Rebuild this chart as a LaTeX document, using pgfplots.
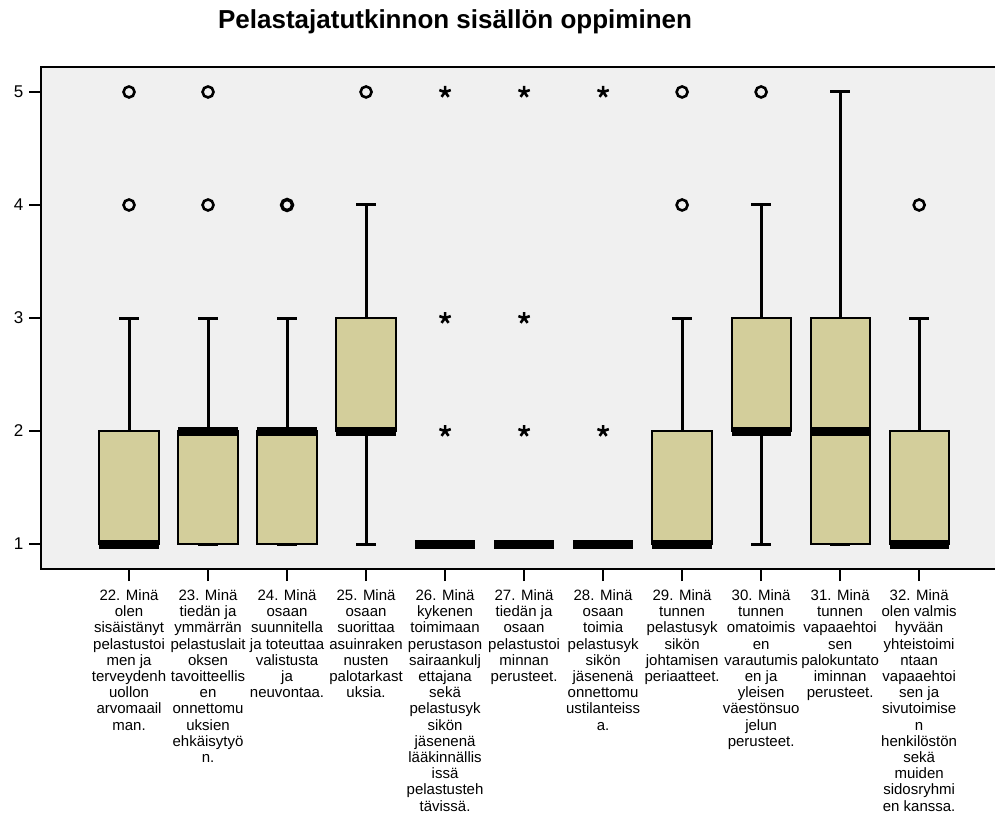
\documentclass[border=0pt]{standalone}
\usepackage{pgfplots}
\pgfplotsset{compat=1.18}
\usepgfplotslibrary{statistics}
\usepackage{fontspec}
\setmainfont{Liberation Sans}
\definecolor{bgc}{HTML}{F0F0F0}
\definecolor{boxc}{HTML}{D3CE9B}
\begin{document}
\begin{tikzpicture}
\begin{axis}[
  at={(0,0)}, anchor=south west,
  scale only axis, width=954pt, height=502pt,
  xmin=-0.114, xmax=11.96, ymin=0.779, ymax=5.221,
  axis background/.style={fill=bgc},
  axis line style={draw=none},
  ytick={1,2,3,4,5},
  xtick={1,...,11},
  tick align=outside,
  major tick length=12pt,
  every tick/.style={black, line width=2pt},
  xtick pos=bottom, ytick pos=left,
  /pgf/number format/assume math mode=true,
  yticklabel style={font=\fontsize{17}{20}\selectfont, inner sep=5.5pt},
  xticklabel style={font=\fontsize{15}{16.2}\selectfont, align=center, inner sep=2pt, yshift=-6.5pt},
  xticklabels={
    {22. Minä\\olen\\sisäistänyt\\pelastustoi\\men ja\\terveydenh\\uollon\\arvomaail\\man.},
    {23. Minä\\tiedän ja\\ymmärrän\\pelastuslait\\oksen\\tavoitteellis\\en\\onnettomu\\uksien\\ehkäisytyö\\n.},
    {24. Minä\\osaan\\suunnitella\\ja toteuttaa\\valistusta\\ja\\neuvontaa.},
    {25. Minä\\osaan\\suorittaa\\asuinraken\\nusten\\palotarkast\\uksia.},
    {26. Minä\\kykenen\\toimimaan\\perustason\\sairaankulj\\ettajana\\sekä\\pelastusyk\\sikön\\jäsenenä\\lääkinnällis\\issä\\pelastusteh\\tävissä.},
    {27. Minä\\tiedän ja\\osaan\\pelastustoi\\minnan\\perusteet.},
    {28. Minä\\osaan\\toimia\\pelastusyk\\sikön\\jäsenenä\\onnettomu\\ustilanteiss\\a.},
    {29. Minä\\tunnen\\pelastusyk\\sikön\\johtamisen\\periaatteet.},
    {30. Minä\\tunnen\\omatoimis\\en\\varautumis\\en ja\\yleisen\\väestönsuo\\jelun\\perusteet.},
    {31. Minä\\tunnen\\vapaaehtoi\\sen\\palokuntato\\iminnan\\perusteet.},
    {32. Minä\\olen valmis\\hyvään\\yhteistoimi\\ntaan\\vapaaehtoi\\sen ja\\sivutoimise\\n\\henkilöstön\\sekä\\muiden\\sidosryhmi\\en kanssa.}
  },
  boxplot/draw direction=y,
  boxplot/box extend=0.75,
  boxplot/whisker extend=0.25,
  boxplot/every box/.style={draw=black, line width=2pt, fill=boxc},
  boxplot/every whisker/.style={draw=black, line width=3pt},
  boxplot/every median/.style={draw=black, line width=9pt},
  clip=false,
]
% boxes: draw position, lower whisker, lower quartile, median, upper quartile, upper whisker
\addplot[boxplot prepared={draw position=1, lower whisker=1, lower quartile=1, median=1, upper quartile=2, upper whisker=3}] coordinates {};
\addplot[boxplot prepared={draw position=2, lower whisker=1, lower quartile=1, median=2, upper quartile=2, upper whisker=3}] coordinates {};
\addplot[boxplot prepared={draw position=3, lower whisker=1, lower quartile=1, median=2, upper quartile=2, upper whisker=3}] coordinates {};
\addplot[boxplot prepared={draw position=4, lower whisker=1, lower quartile=2, median=2, upper quartile=3, upper whisker=4}] coordinates {};
\addplot[boxplot prepared={draw position=5, lower whisker=1, lower quartile=1, median=1, upper quartile=1, upper whisker=1}] coordinates {};
\addplot[boxplot prepared={draw position=6, lower whisker=1, lower quartile=1, median=1, upper quartile=1, upper whisker=1}] coordinates {};
\addplot[boxplot prepared={draw position=7, lower whisker=1, lower quartile=1, median=1, upper quartile=1, upper whisker=1}] coordinates {};
\addplot[boxplot prepared={draw position=8, lower whisker=1, lower quartile=1, median=1, upper quartile=2, upper whisker=3}] coordinates {};
\addplot[boxplot prepared={draw position=9, lower whisker=1, lower quartile=2, median=2, upper quartile=3, upper whisker=4}] coordinates {};
\addplot[boxplot prepared={draw position=10, lower whisker=1, lower quartile=1, median=2, upper quartile=3, upper whisker=5}] coordinates {};
\addplot[boxplot prepared={draw position=11, lower whisker=1, lower quartile=1, median=1, upper quartile=2, upper whisker=3}] coordinates {};
% outliers (circles)
\addplot[only marks, mark=o, mark size=5.5pt, mark options={line width=2.6pt, draw=black}] coordinates {
 (1,4) (1,5) (2,4) (2,5) (4,5) (8,4) (8,5) (9,5) (11,4)};
\addplot[only marks, mark=o, mark size=5.5pt, mark options={line width=3.4pt, draw=black}] coordinates {(3,4)};
% extremes (stars)
\addplot[only marks, mark=star, mark size=6pt, mark options={line width=2.6pt, draw=black}] coordinates {
 (5,2) (5,3) (5,5) (6,2) (6,3) (6,5) (7,2) (7,5)};
% frame (left, top, bottom)
\draw[line width=2pt, line cap=rect] (rel axis cs:1,0) -- (rel axis cs:0,0) -- (rel axis cs:0,1) -- (rel axis cs:1,1);
\node[anchor=base, font=\bfseries\fontsize{26}{30}\selectfont] at (rel axis cs:0.434,1.0771) {Pelastajatutkinnon sisällön oppiminen};
\end{axis}
\pgfresetboundingbox
\useasboundingbox (-41pt,-245pt) rectangle (954pt,569pt);
\end{tikzpicture}
\end{document}
